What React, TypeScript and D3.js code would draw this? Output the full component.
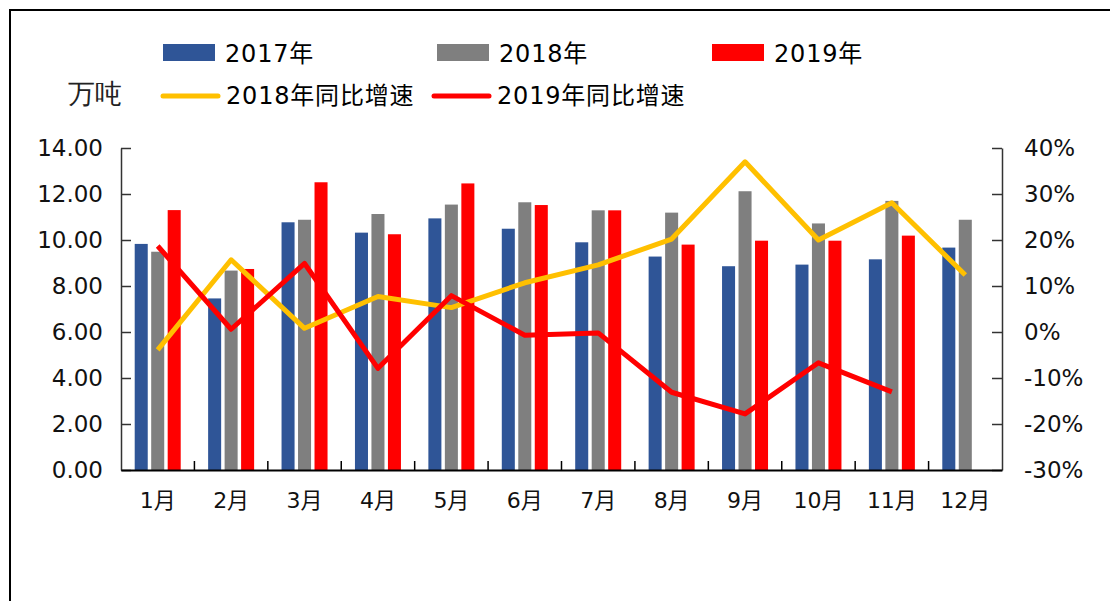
import React, { useEffect, useRef } from "react";
import * as d3 from "d3";

const months = ["1月", "2月", "3月", "4月", "5月", "6月", "7月", "8月", "9月", "10月", "11月", "12月"];
const v2017 = [9.83, 7.46, 10.77, 10.32, 10.94, 10.49, 9.9, 9.28, 8.86, 8.93, 9.16, 9.67];
const v2018 = [9.49, 8.67, 10.88, 11.13, 11.54, 11.64, 11.29, 11.19, 12.12, 10.72, 11.7, 10.88];
const v2019 = [11.3, 8.74, 12.51, 10.25, 12.46, 11.52, 11.29, 9.8, 9.97, 9.97, 10.19];
const yoy2018 = [-3.9, 15.7, 0.8, 7.7, 5.3, 10.7, 14.6, 20.2, 37.0, 20.0, 28.1, 12.4];
const yoy2019 = [18.7, 0.6, 14.9, -7.9, 7.9, -0.7, -0.2, -13.1, -17.8, -6.7, -13.0];
const leftTicks = [0, 2, 4, 6, 8, 10, 12, 14];
const rightTicks = [-30, -20, -10, 0, 10, 20, 30, 40];

const barSeries = ["2017年", "2018年", "2019年"];
const barColors = ["#2F5597", "#7F7F7F", "#FF0000"];
const font = "'DejaVu Sans', 'Noto Sans CJK SC', sans-serif";

export default function App() {
  const ref = useRef<SVGSVGElement>(null);

  useEffect(() => {
    document.body.style.margin = "0";
    const svg = d3.select(ref.current);
    svg.selectAll("*").remove();

    const left = 121, right = 1002, top = 148, bottom = 470;

    const x = d3.scaleBand<string>().domain(months).range([left, right]);
    const y = d3.scaleLinear().domain([0, 14]).range([bottom, top]);
    const yr = d3.scaleLinear().domain([-30, 40]).range([bottom, top]);
    const cx = (m: string) => (x(m) as number) + x.bandwidth() / 2;
    const inner = d3.scaleBand<string>().domain(barSeries).range([-23, 23]).paddingInner(0.21);

    // frame
    svg.append("path")
      .attr("d", "M10,601 L10,10 L1110,10")
      .attr("fill", "none")
      .attr("stroke", "#000")
      .attr("stroke-width", 2);

    // bars
    const all = [v2017, v2018, v2019];
    all.forEach((vals, si) => {
      svg.append("g").selectAll("rect")
        .data(vals)
        .enter().append("rect")
        .attr("x", (d, i) => cx(months[i]) + (inner(barSeries[si]) as number))
        .attr("y", d => y(d))
        .attr("width", inner.bandwidth())
        .attr("height", d => bottom - y(d))
        .attr("fill", barColors[si]);
    });

    // lines
    const line = d3.line<number>()
      .x((d, i) => cx(months[i]))
      .y(d => yr(d));
    svg.append("path").attr("d", line(yoy2018)).attr("fill", "none")
      .attr("stroke", "#FFC000").attr("stroke-width", 5).attr("stroke-linejoin", "round");
    svg.append("path").attr("d", line(yoy2019)).attr("fill", "none")
      .attr("stroke", "#FF0000").attr("stroke-width", 5).attr("stroke-linejoin", "round");

    // axes
    const axisStyle = (g: any) => {
      g.selectAll("text").attr("font-family", font).attr("font-size", 23).attr("fill", "#111");
      g.select(".domain").attr("stroke", "#333").attr("stroke-width", 1.5);
      g.selectAll(".tick line").attr("stroke", "#333").attr("stroke-width", 1.5);
    };

    svg.append("g")
      .attr("transform", `translate(${left},0)`)
      .call(d3.axisRight(y).tickValues(leftTicks).tickSize(10).tickSizeOuter(0).tickFormat(d => (d as number).toFixed(2)))
      .call(axisStyle)
      .call(g => g.selectAll("text").attr("x", -18).attr("text-anchor", "end"));

    svg.append("g")
      .attr("transform", `translate(${right},0)`)
      .call(d3.axisLeft(yr).tickValues(rightTicks).tickSize(10).tickSizeOuter(0).tickFormat(d => `${d}%`))
      .call(axisStyle)
      .call(g => g.selectAll("text").attr("x", 22).attr("text-anchor", "start"));

    const xa = svg.append("g")
      .attr("transform", `translate(0,${bottom})`)
      .call(d3.axisTop(x).tickSize(0).tickSizeOuter(0))
      .call(axisStyle);
    xa.selectAll("text").attr("y", 30).attr("dy", "0.35em").attr("font-size", 22);
    xa.select(".domain").attr("stroke", "#000").attr("stroke-width", 2);
    // boundary ticks
    xa.selectAll(".bt")
      .data(months.slice(1))
      .enter().append("line")
      .attr("x1", d => x(d) as number).attr("x2", d => x(d) as number)
      .attr("y1", 0).attr("y2", -9)
      .attr("stroke", "#000").attr("stroke-width", 1.5);

    // unit label
    svg.append("text").attr("x", 68).attr("y", 103).text("万吨")
      .attr("font-family", "serif").attr("font-size", 27).attr("fill", "#222");

    // legend
    const lg = svg.append("g").attr("font-family", font).attr("font-size", 24).attr("fill", "#000")
      .attr("letter-spacing", 0.8);
    const rectX = [163, 437, 712];
    barSeries.forEach((s, i) => {
      lg.append("rect").attr("x", rectX[i]).attr("y", 44).attr("width", 52).attr("height", 17).attr("fill", barColors[i]);
      lg.append("text").attr("x", rectX[i] + 62).attr("y", 62).text(s);
    });
    const lineLegend = [
      { label: "2018年同比增速", color: "#FFC000", x: 163 },
      { label: "2019年同比增速", color: "#FF0000", x: 434 },
    ];
    lineLegend.forEach(l => {
      lg.append("line").attr("x1", l.x).attr("x2", l.x + 55).attr("y1", 96).attr("y2", 96)
        .attr("stroke", l.color).attr("stroke-width", 5).attr("stroke-linecap", "round");
      lg.append("text").attr("x", l.x + 63).attr("y", 104).text(l.label);
    });
  }, []);

  return (
    <div style={{ position: "absolute", left: 0, top: 0 }}>
      <svg ref={ref} width={1110} height={601} style={{ display: "block", background: "#fff" }} />
    </div>
  );
}
